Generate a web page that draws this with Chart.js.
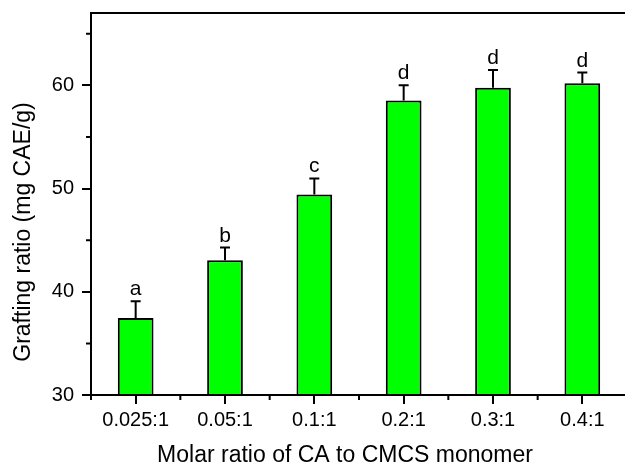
<!DOCTYPE html>
<html>
<head>
<meta charset="utf-8">
<script src="https://cdn.jsdelivr.net/npm/chart.js@4"></script>
<style>
  html, body { margin: 0; padding: 0; background: #fff; overflow: hidden; }
  #wrap { width: 625px; height: 463px; overflow: hidden; }
</style>
</head>
<body>
<div id="wrap"><canvas id="chart" width="640" height="463"></canvas></div>
<script>
const categories = ['0.025:1', '0.05:1', '0.1:1', '0.2:1', '0.3:1', '0.4:1'];
const graftingRatio = [37.45, 43.05, 49.43, 58.52, 59.75, 60.19];
const errorUp = [1.62, 1.23, 1.55, 1.48, 1.74, 1.04];
const letters = ['a', 'b', 'c', 'd', 'd', 'd'];
const yTicks = [30, 40, 50, 60];
const yMinorTicks = [35, 45, 55, 65];
const xTitle = 'Molar ratio of CA to CMCS monomer';
const yTitle = 'Grafting ratio (mg CAE/g)';

const FONT = "'Liberation Sans', Arial, sans-serif";

// frame, minor ticks, error bars, letters and axis titles
const extras = {
  id: 'extras',
  afterDatasetsDraw(chart) {
    const { ctx, chartArea: a, scales: { x, y } } = chart;
    ctx.save();
    ctx.strokeStyle = '#000';
    ctx.fillStyle = '#000';
    ctx.lineWidth = 2;

    // error bars
    const meta = chart.getDatasetMeta(0);
    meta.data.forEach((bar, i) => {
      const top = y.getPixelForValue(graftingRatio[i] + errorUp[i]);
      ctx.beginPath();
      ctx.moveTo(bar.x, bar.y);
      ctx.lineTo(bar.x, top);
      ctx.moveTo(bar.x - 5, top);
      ctx.lineTo(bar.x + 5, top);
      ctx.stroke();
      ctx.font = '21px ' + FONT;
      ctx.textAlign = 'center';
      ctx.textBaseline = 'alphabetic';
      ctx.fillText(letters[i], bar.x, top - 6);
    });

    // frame
    ctx.strokeRect(a.left, a.top, a.right - a.left, a.bottom - a.top);

    // minor ticks
    ctx.beginPath();
    yMinorTicks.forEach(v => {
      const py = y.getPixelForValue(v);
      ctx.moveTo(a.left - 5, py);
      ctx.lineTo(a.left, py);
    });
    for (let i = 0; i <= categories.length; i++) {
      const px = x.getPixelForValue(i - 0.5);
      ctx.moveTo(px, a.bottom);
      ctx.lineTo(px, a.bottom + 5);
    }
    ctx.stroke();

    // axis titles (the original figure has them off-centre)
    ctx.font = '23px ' + FONT;
    ctx.textAlign = 'center';
    ctx.textBaseline = 'alphabetic';
    ctx.fillText(xTitle, (a.left + a.right) / 2 - 14, chart.height - 1.5);
    ctx.translate(30, (a.top + a.bottom) / 2 + 28);
    ctx.rotate(-Math.PI / 2);
    ctx.fillText(yTitle, 0, 0);
    ctx.restore();
  }
};

new Chart(document.getElementById('chart'), {
  type: 'bar',
  data: {
    labels: categories,
    datasets: [{
      data: graftingRatio,
      backgroundColor: '#00FF00',
      borderColor: '#000',
      borderWidth: 2,
      borderSkipped: 'start',
      barPercentage: 0.4,
      categoryPercentage: 1.0
    }]
  },
  options: {
    responsive: false,
    animation: false,
    devicePixelRatio: 1,
    layout: { padding: { top: 13, right: 13, left: 0, bottom: 0 } },
    plugins: { legend: { display: false }, tooltip: { enabled: false } },
    scales: {
      x: {
        offset: true,
        afterFit: s => { s.height = 68; s.paddingLeft = 0; s.paddingRight = 0; },
        grid: { display: true, offset: false, drawOnChartArea: false, drawTicks: true, tickLength: 9, color: '#000', lineWidth: 2 },
        border: { display: true, color: '#000', width: 2 },
        ticks: { color: '#000', padding: 4, font: { family: FONT, size: 20 } }
      },
      y: {
        min: 30,
        max: 67,
        afterFit: s => { s.width = 91; s.paddingTop = 0; s.paddingBottom = 0; },
        afterBuildTicks: s => { s.ticks = yTicks.map(v => ({ value: v })); },
        grid: { display: true, drawOnChartArea: false, drawTicks: true, tickLength: 9, color: '#000', lineWidth: 2 },
        border: { display: true, color: '#000', width: 2 },
        ticks: { color: '#000', padding: 8, font: { family: FONT, size: 20 } }
      }
    }
  },
  plugins: [extras]
});
</script>
</body>
</html>
